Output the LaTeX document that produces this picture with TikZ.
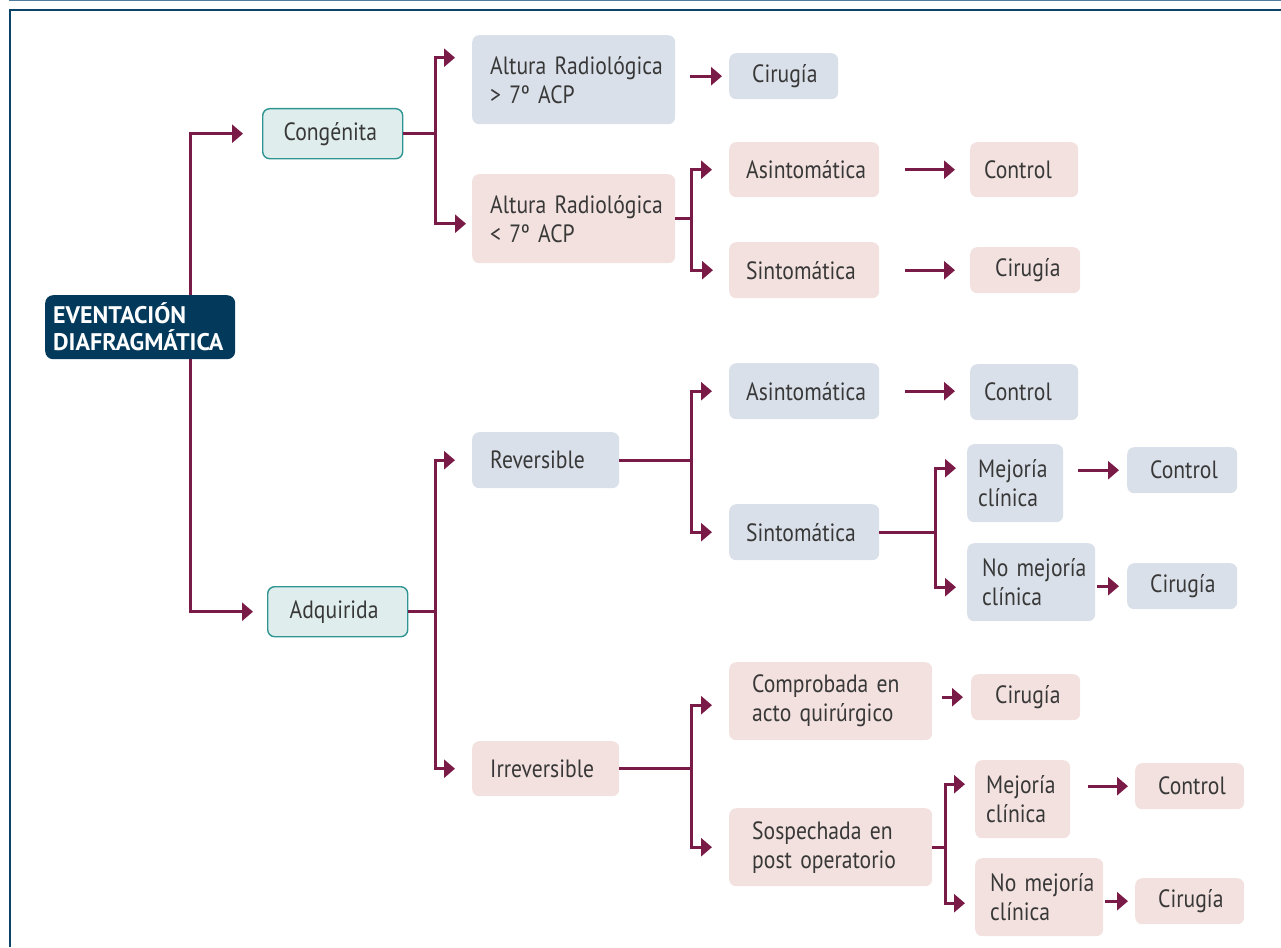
\documentclass[tikz,border=0pt]{standalone}
\usepackage{fontspec}
\setmainfont{PT Sans}[FakeStretch=0.865]
\newfontfamily\rootfont{PT Sans}
\usetikzlibrary{arrows.meta}
\definecolor{navy}{HTML}{033A5C}
\definecolor{framec}{HTML}{0B4468}
\definecolor{topl}{HTML}{4E7C9C}
\definecolor{tealfill}{HTML}{DFEEEC}
\definecolor{tealdraw}{HTML}{2E9593}
\definecolor{bluefill}{HTML}{DAE0E9}
\definecolor{pinkfill}{HTML}{F2E1DE}
\definecolor{wine}{HTML}{7A1B47}
\definecolor{txt}{HTML}{383838}
\tikzset{
  box/.style={rounded corners=7pt, anchor=north west, inner ysep=0pt, align=left,
    text=txt, font=\fontsize{25}{29}\selectfont},
  bluebox/.style={box, fill=bluefill},
  pinkbox/.style={box, fill=pinkfill},
  tealbox/.style={box, fill=tealfill, draw=tealdraw, line width=1.4pt},
  rootbox/.style={box, rounded corners=8pt, fill=navy, text=white, font=\rootfont\bfseries\fontsize{24}{27}\selectfont},
  wireline/.style={draw=wine, line width=3pt},
  link/.style={wireline, -{Triangle[length=11pt,width=18pt]}}
}
\begin{document}
\begin{tikzpicture}[x=1pt,y=-1pt]
\useasboundingbox (0,0) rectangle (1281,947);
% frame
\draw[topl, line width=1.5pt] (9,0.75) -- (1281,0.75);
\draw[framec, line width=2.2pt] (10,947) -- (10,10) -- (1281,10);
% junction columns
\coordinate (j0) at (190,0);
\coordinate (jA) at (435,0);
\coordinate (jB) at (691,0);
\coordinate (jC) at (935,0);
\coordinate (jD) at (945,0);
% nodes
\node[tealbox, minimum width=140pt, minimum height=50pt, inner xsep=21pt, text width=98pt] (cong) at (262,108) {Congénita};
\node[tealbox, minimum width=140pt, minimum height=50pt, inner xsep=22pt, text width=96pt] (adq) at (267,586) {Adquirida};
\node[bluebox, minimum width=203pt, minimum height=89pt, inner xsep=18pt, text width=167pt] (alt1) at (472,35) {\mbox{Altura Radiológica}\\\mbox{> 7º ACP}};
\node[bluebox, minimum width=109pt, minimum height=46pt, inner xsep=23pt, text width=63pt] (cir1) at (729,53) {Cirugía};
\node[pinkbox, minimum width=203pt, minimum height=89pt, inner xsep=18pt, text width=167pt] (alt2) at (472,174) {\mbox{Altura Radiológica}\\\mbox{< 7º ACP}};
\node[pinkbox, minimum width=150pt, minimum height=55pt, inner xsep=17pt, text width=116pt] (asi1) at (729,142) {Asintomática};
\node[pinkbox, minimum width=108pt, minimum height=55pt, inner xsep=14pt, text width=80pt] (con1) at (970,142) {Control};
\node[pinkbox, minimum width=150pt, minimum height=56pt, inner xsep=17pt, text width=116pt] (sin1) at (729,242) {Sintomática};
\node[pinkbox, minimum width=110pt, minimum height=46pt, inner xsep=25pt, text width=60pt] (cir2) at (970,247) {Cirugía};
\node[bluebox, minimum width=147pt, minimum height=56pt, inner xsep=18pt, text width=111pt] (rev) at (472,432) {Reversible};
\node[bluebox, minimum width=150pt, minimum height=56pt, inner xsep=17pt, text width=116pt] (asi2) at (729,363) {Asintomática};
\node[bluebox, minimum width=108pt, minimum height=56pt, inner xsep=14pt, text width=80pt] (con2) at (970,364) {Control};
\node[bluebox, minimum width=150pt, minimum height=56pt, inner xsep=17pt, text width=116pt] (sin2) at (729,504) {Sintomática};
\node[bluebox, minimum width=96pt, minimum height=78pt, inner xsep=11pt, text width=74pt] (mej1) at (967,444) {Mejoría\\clínica};
\node[bluebox, minimum width=110pt, minimum height=46pt, inner xsep=23pt, text width=64pt] (con3) at (1127,447) {Control};
\node[bluebox, minimum width=128pt, minimum height=78pt, inner xsep=15pt, text width=98pt] (nom1) at (967,543) {\mbox{No mejoría}\\clínica};
\node[bluebox, minimum width=110pt, minimum height=46pt, inner xsep=23pt, text width=64pt] (cir3) at (1127,563) {Cirugía};
\node[pinkbox, minimum width=147pt, minimum height=55pt, inner xsep=18pt, text width=111pt] (irr) at (472,741) {Irreversible};
\node[pinkbox, minimum width=203pt, minimum height=78pt, inner xsep=23pt, text width=157pt] (com) at (729,662) {\mbox{Comprobada en}\\\mbox{acto quirúrgico}};
\node[pinkbox, minimum width=109pt, minimum height=46pt, inner xsep=24pt, text width=61pt] (cir4) at (971,674) {Cirugía};
\node[pinkbox, minimum width=203pt, minimum height=78pt, inner xsep=23pt, text width=157pt] (sos) at (729,808) {\mbox{Sospechada en}\\\mbox{post operatorio}};
\node[pinkbox, minimum width=95pt, minimum height=78pt, inner xsep=11pt, text width=73pt] (mej2) at (975,760) {Mejoría\\clínica};
\node[pinkbox, minimum width=109pt, minimum height=46pt, inner xsep=23pt, text width=63pt] (con4) at (1135,763) {Control};
\node[pinkbox, minimum width=128pt, minimum height=78pt, inner xsep=15pt, text width=98pt] (nom2) at (975,858) {\mbox{No mejoría}\\clínica};
\node[pinkbox, minimum width=109pt, minimum height=46pt, inner xsep=23pt, text width=63pt] (cir5) at (1135,878) {Cirugía};
% connectors (drawn before root so root covers its spine)
\draw[link, shorten >=19pt] (j0 |- 0,295) |- (cong.west);
\draw[link, shorten >=14pt] (j0 |- 0,359) |- (adq.west);
\node[rootbox, minimum width=190pt, minimum height=64pt, inner xsep=8pt, text width=174pt] (root) at (45,295) {\mbox{EVENTACIÓN}\\\mbox{DIAFRAGMÁTICA}};
% congenita
\draw[wireline] (cong.east) -- (cong.east -| jA);
\draw[link, shorten >=17pt] (cong.east -| jA) |- ([yshift=22pt]alt1.west);
\draw[link, shorten >=6pt] (cong.east -| jA) |- ([yshift=-5pt]alt2.west);
\draw[link, shorten <=15pt, shorten >=7pt] (alt1.east |- cir1.west) -- (cir1.west);
\draw[wireline] (alt2.east) -- (alt2.east -| jB);
\draw[link, shorten >=17pt] (alt2.east -| jB) |- (asi1.west);
\draw[link, shorten >=16pt] (alt2.east -| jB) |- (sin1.west);
\draw[link, shorten <=26pt, shorten >=15pt] (asi1.east) -- (asi1.east -| con1.west);
\draw[link, shorten <=26pt, shorten >=15pt] (sin1.east) -- (sin1.east -| cir2.west);
% adquirida
\draw[wireline] (adq.east) -- (adq.east -| jA);
\draw[link, shorten >=17pt] (adq.east -| jA) |- (rev.west);
\draw[link, shorten >=17pt] (adq.east -| jA) |- (irr.west);
\draw[wireline] (rev.east) -- (rev.east -| jB);
\draw[link, shorten >=17pt] (rev.east -| jB) |- (asi2.west);
\draw[link, shorten >=17pt] (rev.east -| jB) |- (sin2.west);
\draw[link, shorten <=26pt, shorten >=15pt] (asi2.east) -- (asi2.east -| con2.west);
\draw[wireline] (sin2.east) -- (sin2.east -| jC);
\draw[link, shorten >=11pt] (sin2.east -| jC) |- ([yshift=15pt]mej1.west);
\draw[link, shorten >=11pt] (sin2.east -| jC) |- ([yshift=-5pt]nom1.west);
\draw[link, shorten <=15pt, shorten >=8pt] (mej1.east |- con3.west) -- (con3.west);
\draw[link, shorten <=2pt, shorten >=8pt] (nom1.east |- cir3.west) -- (cir3.west);
\draw[wireline] (irr.east) -- (irr.east -| jB);
\draw[link, shorten >=17pt] (irr.east -| jB) |- ([yshift=-4pt]com.west);
\draw[link, shorten >=17pt] (irr.east -| jB) |- (sos.west);
\draw[link, shorten <=10pt, shorten >=8pt] (com.east |- cir4.west) -- (cir4.west);
\draw[wireline] (sos.east) -- (sos.east -| jD);
\draw[link, shorten >=10pt] (sos.east -| jD) |- ([yshift=15pt]mej2.west);
\draw[link, shorten >=10pt] (sos.east -| jD) |- ([yshift=-6pt]nom2.west);
\draw[link, shorten <=18pt, shorten >=7pt] (mej2.east |- con4.west) -- (con4.west);
\draw[link, shorten <=2pt, shorten >=7pt] (nom2.east |- cir5.west) -- (cir5.west);
\end{tikzpicture}
\end{document}
